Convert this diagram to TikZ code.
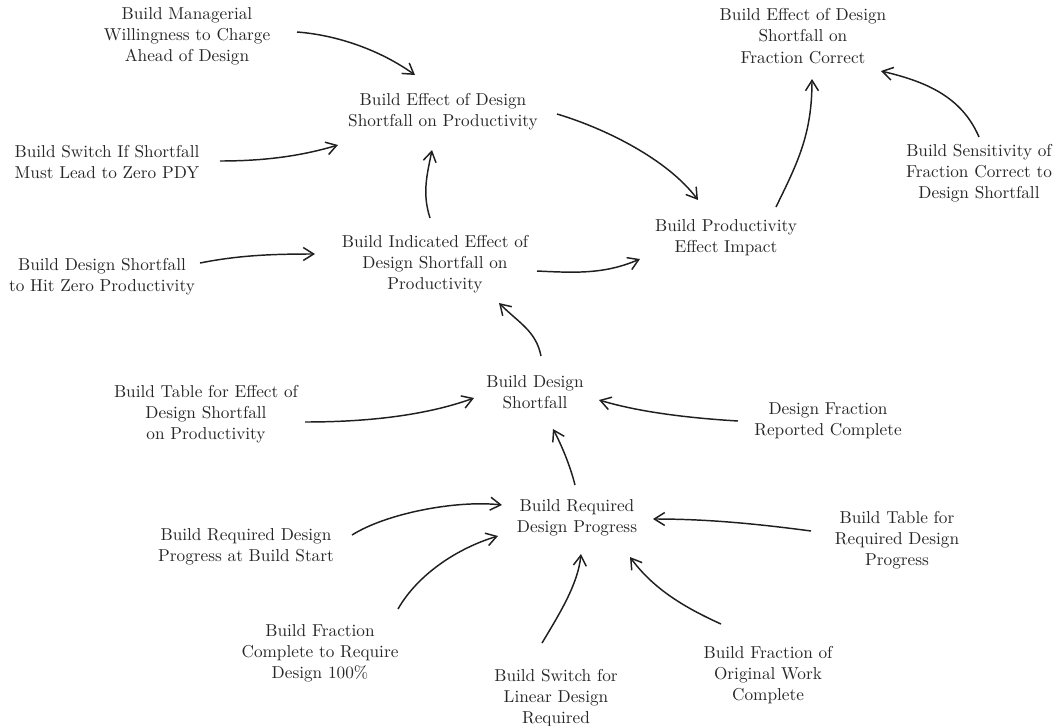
\documentclass[tikz,border=0pt]{standalone}
\usetikzlibrary{arrows.meta,calc}
\begin{document}
\begin{tikzpicture}[x=0.58pt,y=-0.58pt,
  var/.style={align=center,inner sep=0pt,text=black!85,
    font=\fontsize{10}{12.3}\selectfont},
  link/.style={line width=0.85pt,draw=black!88,
    -{Straight Barb[length=6pt,width=7.5pt]}}]
\useasboundingbox (0,0) rectangle (1055,726);

% variables
\node[var] (M)    at (187,36)  {Build Managerial\\Willingness to Charge\\Ahead of Design};
\node[var] (E)    at (443,112) {Build Effect of Design\\Shortfall on Productivity};
\node[var] (FC)   at (803,36)  {Build Effect of Design\\Shortfall on\\Fraction Correct};
\node[var] (SENS) at (979,173) {Build Sensitivity of\\Fraction Correct to\\Design Shortfall};
\node[var] (S)    at (107,162) {Build Switch If Shortfall\\Must Lead to Zero PDY};
\node[var] (P)    at (726,238) {Build Productivity\\Effect Impact};
\node[var] (I)    at (435,264) {Build Indicated Effect of\\Design Shortfall on\\Productivity};
\node[var] (DZ)   at (102,277) {Build Design Shortfall\\to Hit Zero Productivity};
\node[var] (DS)   at (535,392) {Build Design\\Shortfall};
\node[var] (T)    at (206,414) {Build Table for Effect of\\Design Shortfall\\on Productivity};
\node[var] (DF)   at (828,421) {Design Fraction\\Reported Complete};
\node[var] (R)    at (577,518) {Build Required\\Design Progress};
\node[var] (TR)   at (897,540) {Build Table for\\Required Design\\Progress};
\node[var] (RS)   at (246,547) {Build Required Design\\Progress at Build Start};
\node[var] (FCR)  at (320,653) {Build Fraction\\Complete to Require\\Design 100\%};
\node[var] (OW)   at (768,675) {Build Fraction of\\Original Work\\Complete};
\node[var] (L)    at (556,698) {Build Switch for\\Linear Design\\Required};

% causal links
\draw[link] ($(M)+(110,-4)$)   .. controls +(40,3)   and +(-35,-25) .. ($(E)+(-28,-37)$);
\draw[link] ($(S)+(113,-1)$)   .. controls +(40,0)   and +(-40,12)  .. ($(E)+(-105,33)$);
\draw[link] ($(I)+(-5,-46)$)   .. controls +(-8,-25) and +(-5,25)   .. ($(E)+(-11,38)$);
\draw[link] ($(E)+(114,2)$)    .. controls +(50,15)  and +(-30,-40) .. ($(P)+(-28,-38)$);
\draw[link] ($(DZ)+(98,-14)$)  .. controls +(40,-8)  and +(-40,0)   .. ($(I)+(-120,-10)$);
\draw[link] ($(I)+(102,7)$)    .. controls +(40,2)   and +(-35,15)  .. ($(P)+(-86,21)$);
\draw[link] ($(P)+(50,-31)$)   .. controls +(22,-45) and +(0,55)    .. ($(FC)+(9,43)$);
\draw[link] ($(SENS)+(0,-36)$) .. controls +(-18,-42) and +(42,10)  .. ($(FC)+(78,35)$);
\draw[link] ($(DS)+(6,-36)$)   .. controls +(-5,-25) and +(20,20)   .. ($(I)+(64,39)$);
\draw[link] ($(T)+(99,8)$)     .. controls +(60,0)   and +(-50,18)  .. ($(DS)+(-61,6)$);
\draw[link] ($(DF)+(-90,0)$)   .. controls +(-50,-3) and +(40,12)   .. ($(DS)+(64,8)$);
\draw[link] ($(R)+(-2,-33)$)   .. controls +(-5,-20) and +(8,15)    .. ($(DS)+(18,37)$);
\draw[link] ($(RS)+(106,-12)$) .. controls +(35,-22) and +(-45,-5)  .. ($(R)+(-75,-13)$);
\draw[link] ($(FCR)+(78,-44)$) .. controls +(20,-35) and +(-40,12)  .. ($(R)+(-79,18)$);
\draw[link] ($(L)+(-14,-55)$)  .. controls +(18,-30) and +(-3,30)   .. ($(R)+(4,36)$);
\draw[link] ($(OW)+(-47,-51)$) .. controls +(-40,-18) and +(22,30)  .. ($(R)+(53,39)$);
\draw[link] ($(TR)+(-86,-9)$)  .. controls +(-60,-8) and +(50,0)    .. ($(R)+(76,1)$);
\end{tikzpicture}
\end{document}
